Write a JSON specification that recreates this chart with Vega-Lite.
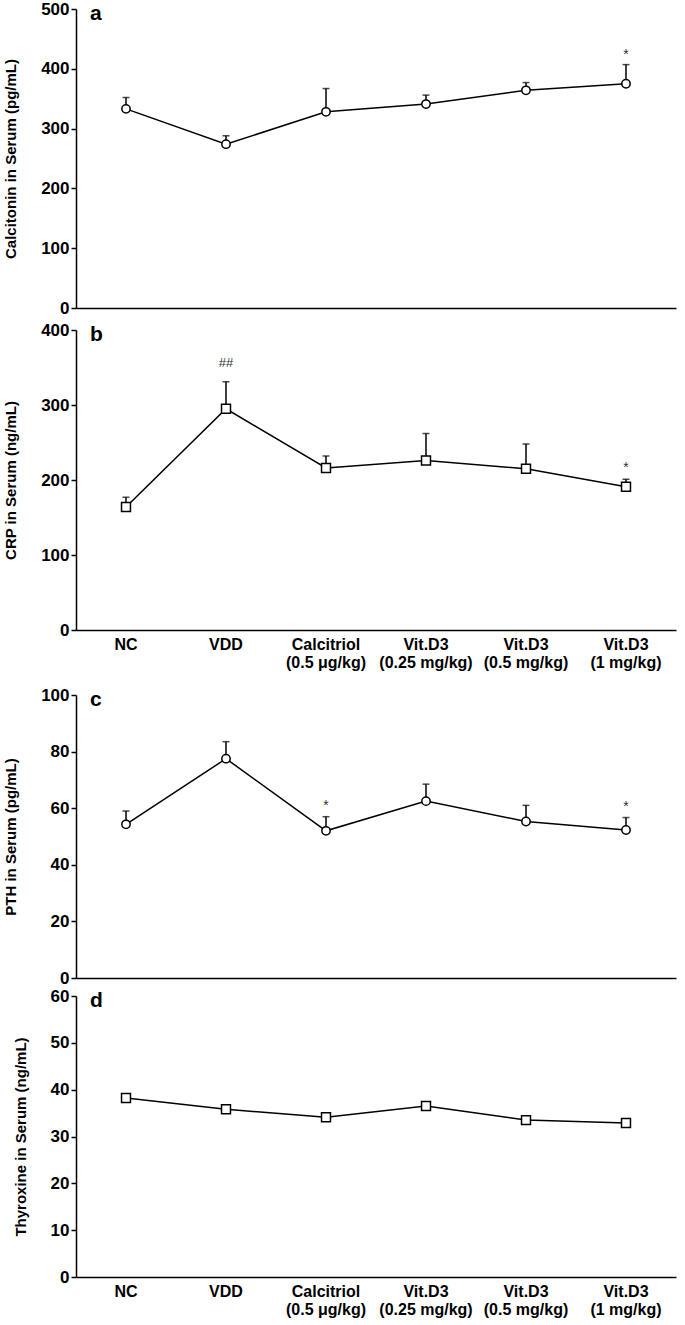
{
  "$schema": "https://vega.github.io/schema/vega-lite/v6.json",
  "padding": {"left": 3, "top": 0, "right": 5, "bottom": 2},
  "background": "white",
  "spacing": 16,
  "config": {
    "font": "Liberation Sans",
    "view": {"stroke": null},
    "axis": {
      "grid": false,
      "domainColor": "black",
      "domainWidth": 1.5,
      "tickColor": "black",
      "tickWidth": 1.5,
      "tickSize": 5,
      "labelColor": "black",
      "labelFont": "Liberation Sans",
      "labelFontWeight": "bold",
      "labelFontSize": 17,
      "titleColor": "black",
      "titleFont": "Liberation Sans",
      "titleFontWeight": "bold",
      "titleFontSize": 15,
      "titlePadding": 22
    },
    "title": {"font": "Liberation Sans", "fontWeight": "bold", "fontSize": 21, "color": "black", "anchor": "start", "frame": "group"}
  },
  "datasets": {
    "vals": [
      {"panel": "a", "group": "NC", "mean": 333, "upper": 352, "sig": ""},
      {"panel": "a", "group": "VDD", "mean": 274, "upper": 288, "sig": ""},
      {"panel": "a", "group": "Calcitriol (0.5 μg/kg)", "mean": 328, "upper": 367, "sig": ""},
      {"panel": "a", "group": "Vit.D3 (0.25 mg/kg)", "mean": 341, "upper": 356, "sig": ""},
      {"panel": "a", "group": "Vit.D3 (0.5 mg/kg)", "mean": 364, "upper": 377, "sig": ""},
      {"panel": "a", "group": "Vit.D3 (1 mg/kg)", "mean": 375, "upper": 407, "sig": "*"},
      {"panel": "b", "group": "NC", "mean": 164, "upper": 177, "sig": ""},
      {"panel": "b", "group": "VDD", "mean": 295, "upper": 331, "sig": "##"},
      {"panel": "b", "group": "Calcitriol (0.5 μg/kg)", "mean": 216, "upper": 232, "sig": ""},
      {"panel": "b", "group": "Vit.D3 (0.25 mg/kg)", "mean": 226, "upper": 262, "sig": ""},
      {"panel": "b", "group": "Vit.D3 (0.5 mg/kg)", "mean": 215, "upper": 248, "sig": ""},
      {"panel": "b", "group": "Vit.D3 (1 mg/kg)", "mean": 191, "upper": 201, "sig": "*"},
      {"panel": "c", "group": "NC", "mean": 54.3, "upper": 59, "sig": ""},
      {"panel": "c", "group": "VDD", "mean": 77.5, "upper": 83.5, "sig": ""},
      {"panel": "c", "group": "Calcitriol (0.5 μg/kg)", "mean": 52, "upper": 57, "sig": "*"},
      {"panel": "c", "group": "Vit.D3 (0.25 mg/kg)", "mean": 62.5, "upper": 68.5, "sig": ""},
      {"panel": "c", "group": "Vit.D3 (0.5 mg/kg)", "mean": 55.3, "upper": 61, "sig": ""},
      {"panel": "c", "group": "Vit.D3 (1 mg/kg)", "mean": 52.3, "upper": 56.7, "sig": "*"},
      {"panel": "d", "group": "NC", "mean": 38.2, "upper": 38.6, "sig": ""},
      {"panel": "d", "group": "VDD", "mean": 35.8, "upper": 36.3, "sig": ""},
      {"panel": "d", "group": "Calcitriol (0.5 μg/kg)", "mean": 34.1, "upper": 34.5, "sig": ""},
      {"panel": "d", "group": "Vit.D3 (0.25 mg/kg)", "mean": 36.5, "upper": 37.2, "sig": ""},
      {"panel": "d", "group": "Vit.D3 (0.5 mg/kg)", "mean": 33.5, "upper": 33.9, "sig": ""},
      {"panel": "d", "group": "Vit.D3 (1 mg/kg)", "mean": 32.9, "upper": 33.2, "sig": ""}
    ]
  },
  "vconcat": [
    {
      "spacing": 5,
      "vconcat": [
        {
          "width": 600, "height": 299,
          "data": {"name": "vals"},
          "title": {"text": "a", "dx": 14, "offset": -24},
          "transform": [{"filter": "datum.panel === 'a'"}],
          "encoding": {
            "x": {"field": "group", "type": "nominal", "sort": null,
                  "scale": {"type": "band", "paddingInner": 0, "paddingOuter": 0},
                  "axis": {"labels": false, "ticks": false, "title": null}}
          },
          "layer": [
            {"mark": {"type": "rule", "color": "black", "strokeWidth": 1.5},
             "encoding": {"y": {"field": "mean", "type": "quantitative", "scale": {"domain": [0, 500]},
                                "axis": {"values": [0, 100, 200, 300, 400, 500], "title": "Calcitonin in Serum (pg/mL)"}},
                          "y2": {"field": "upper"}}},
            {"mark": {"type": "tick", "color": "black", "thickness": 1.5, "size": 7},
             "encoding": {"y": {"field": "upper", "type": "quantitative"}}},
            {"mark": {"type": "line", "color": "black", "strokeWidth": 1.5},
             "encoding": {"y": {"field": "mean", "type": "quantitative"}}},
            {"mark": {"type": "point", "shape": "circle", "filled": true, "fill": "white", "stroke": "black", "strokeWidth": 1.5, "size": 70, "opacity": 1},
             "encoding": {"y": {"field": "mean", "type": "quantitative"}}},
            {"mark": {"type": "text", "color": "#333333", "fontSize": 14, "baseline": "middle", "dy": -10},
             "transform": [{"filter": "datum.sig === '*'"}],
             "encoding": {"y": {"field": "upper", "type": "quantitative"}, "text": {"field": "sig"}}}
          ]
        },
        {
          "width": 600, "height": 300,
          "data": {"name": "vals"},
          "title": {"text": "b", "dx": 14, "offset": -24},
          "transform": [{"filter": "datum.panel === 'b'"}],
          "encoding": {
            "x": {"field": "group", "type": "nominal", "sort": null,
                  "scale": {"type": "band", "paddingInner": 0, "paddingOuter": 0},
                  "axis": {"ticks": false, "title": null, "labelAngle": 0, "labelPadding": 6, "labelLineHeight": 18, "labelFontSize": 16,
                           "labelExpr": "indexof(datum.value, ' (') > 0 ? [substring(datum.value, 0, indexof(datum.value, ' (')), substring(datum.value, indexof(datum.value, ' (') + 1)] : datum.value"}}
          },
          "layer": [
            {"mark": {"type": "rule", "color": "black", "strokeWidth": 1.5},
             "encoding": {"y": {"field": "mean", "type": "quantitative", "scale": {"domain": [0, 400]},
                                "axis": {"values": [0, 100, 200, 300, 400], "title": "CRP in Serum (ng/mL)"}},
                          "y2": {"field": "upper"}}},
            {"mark": {"type": "tick", "color": "black", "thickness": 1.5, "size": 7},
             "encoding": {"y": {"field": "upper", "type": "quantitative"}}},
            {"mark": {"type": "line", "color": "black", "strokeWidth": 1.5},
             "encoding": {"y": {"field": "mean", "type": "quantitative"}}},
            {"mark": {"type": "point", "shape": "square", "filled": true, "fill": "white", "stroke": "black", "strokeWidth": 1.5, "size": 80, "opacity": 1},
             "encoding": {"y": {"field": "mean", "type": "quantitative"}}},
            {"mark": {"type": "text", "color": "#333333", "fontSize": 14, "baseline": "middle", "dy": -11},
             "transform": [{"filter": "datum.sig === '*'"}],
             "encoding": {"y": {"field": "upper", "type": "quantitative"}, "text": {"field": "sig"}}},
            {"mark": {"type": "text", "color": "#333333", "fontSize": 13, "baseline": "middle", "dy": -19},
             "transform": [{"filter": "datum.sig === '##'"}],
             "encoding": {"y": {"field": "upper", "type": "quantitative"}, "text": {"field": "sig"}}}
          ]
        }
      ]
    },
    {
      "spacing": 1,
      "vconcat": [
        {
          "width": 600, "height": 283,
          "data": {"name": "vals"},
          "title": {"text": "c", "dx": 14, "offset": -24},
          "transform": [{"filter": "datum.panel === 'c'"}],
          "encoding": {
            "x": {"field": "group", "type": "nominal", "sort": null,
                  "scale": {"type": "band", "paddingInner": 0, "paddingOuter": 0},
                  "axis": {"labels": false, "ticks": false, "title": null}}
          },
          "layer": [
            {"mark": {"type": "rule", "color": "black", "strokeWidth": 1.5},
             "encoding": {"y": {"field": "mean", "type": "quantitative", "scale": {"domain": [0, 100]},
                                "axis": {"values": [0, 20, 40, 60, 80, 100], "title": "PTH in Serum (pg/mL)"}},
                          "y2": {"field": "upper"}}},
            {"mark": {"type": "tick", "color": "black", "thickness": 1.5, "size": 7},
             "encoding": {"y": {"field": "upper", "type": "quantitative"}}},
            {"mark": {"type": "line", "color": "black", "strokeWidth": 1.5},
             "encoding": {"y": {"field": "mean", "type": "quantitative"}}},
            {"mark": {"type": "point", "shape": "circle", "filled": true, "fill": "white", "stroke": "black", "strokeWidth": 1.5, "size": 70, "opacity": 1},
             "encoding": {"y": {"field": "mean", "type": "quantitative"}}},
            {"mark": {"type": "text", "color": "#333333", "fontSize": 14, "baseline": "middle", "dy": -11},
             "transform": [{"filter": "datum.sig === '*'"}],
             "encoding": {"y": {"field": "upper", "type": "quantitative"}, "text": {"field": "sig"}}}
          ]
        },
        {
          "width": 600, "height": 281,
          "data": {"name": "vals"},
          "title": {"text": "d", "dx": 14, "offset": -24},
          "transform": [{"filter": "datum.panel === 'd'"}],
          "encoding": {
            "x": {"field": "group", "type": "nominal", "sort": null,
                  "scale": {"type": "band", "paddingInner": 0, "paddingOuter": 0},
                  "axis": {"ticks": false, "title": null, "labelAngle": 0, "labelPadding": 6, "labelLineHeight": 18, "labelFontSize": 16,
                           "labelExpr": "indexof(datum.value, ' (') > 0 ? [substring(datum.value, 0, indexof(datum.value, ' (')), substring(datum.value, indexof(datum.value, ' (') + 1)] : datum.value"}}
          },
          "layer": [
            {"mark": {"type": "rule", "color": "black", "strokeWidth": 1.5},
             "encoding": {"y": {"field": "mean", "type": "quantitative", "scale": {"domain": [0, 60]},
                                "axis": {"values": [0, 10, 20, 30, 40, 50, 60], "title": "Thyroxine in Serum (ng/mL)"}},
                          "y2": {"field": "upper"}}},
            {"mark": {"type": "tick", "color": "black", "thickness": 1.5, "size": 7},
             "encoding": {"y": {"field": "upper", "type": "quantitative"}}},
            {"mark": {"type": "line", "color": "black", "strokeWidth": 1.5},
             "encoding": {"y": {"field": "mean", "type": "quantitative"}}},
            {"mark": {"type": "point", "shape": "square", "filled": true, "fill": "white", "stroke": "black", "strokeWidth": 1.5, "size": 80, "opacity": 1},
             "encoding": {"y": {"field": "mean", "type": "quantitative"}}}
          ]
        }
      ]
    }
  ]
}
